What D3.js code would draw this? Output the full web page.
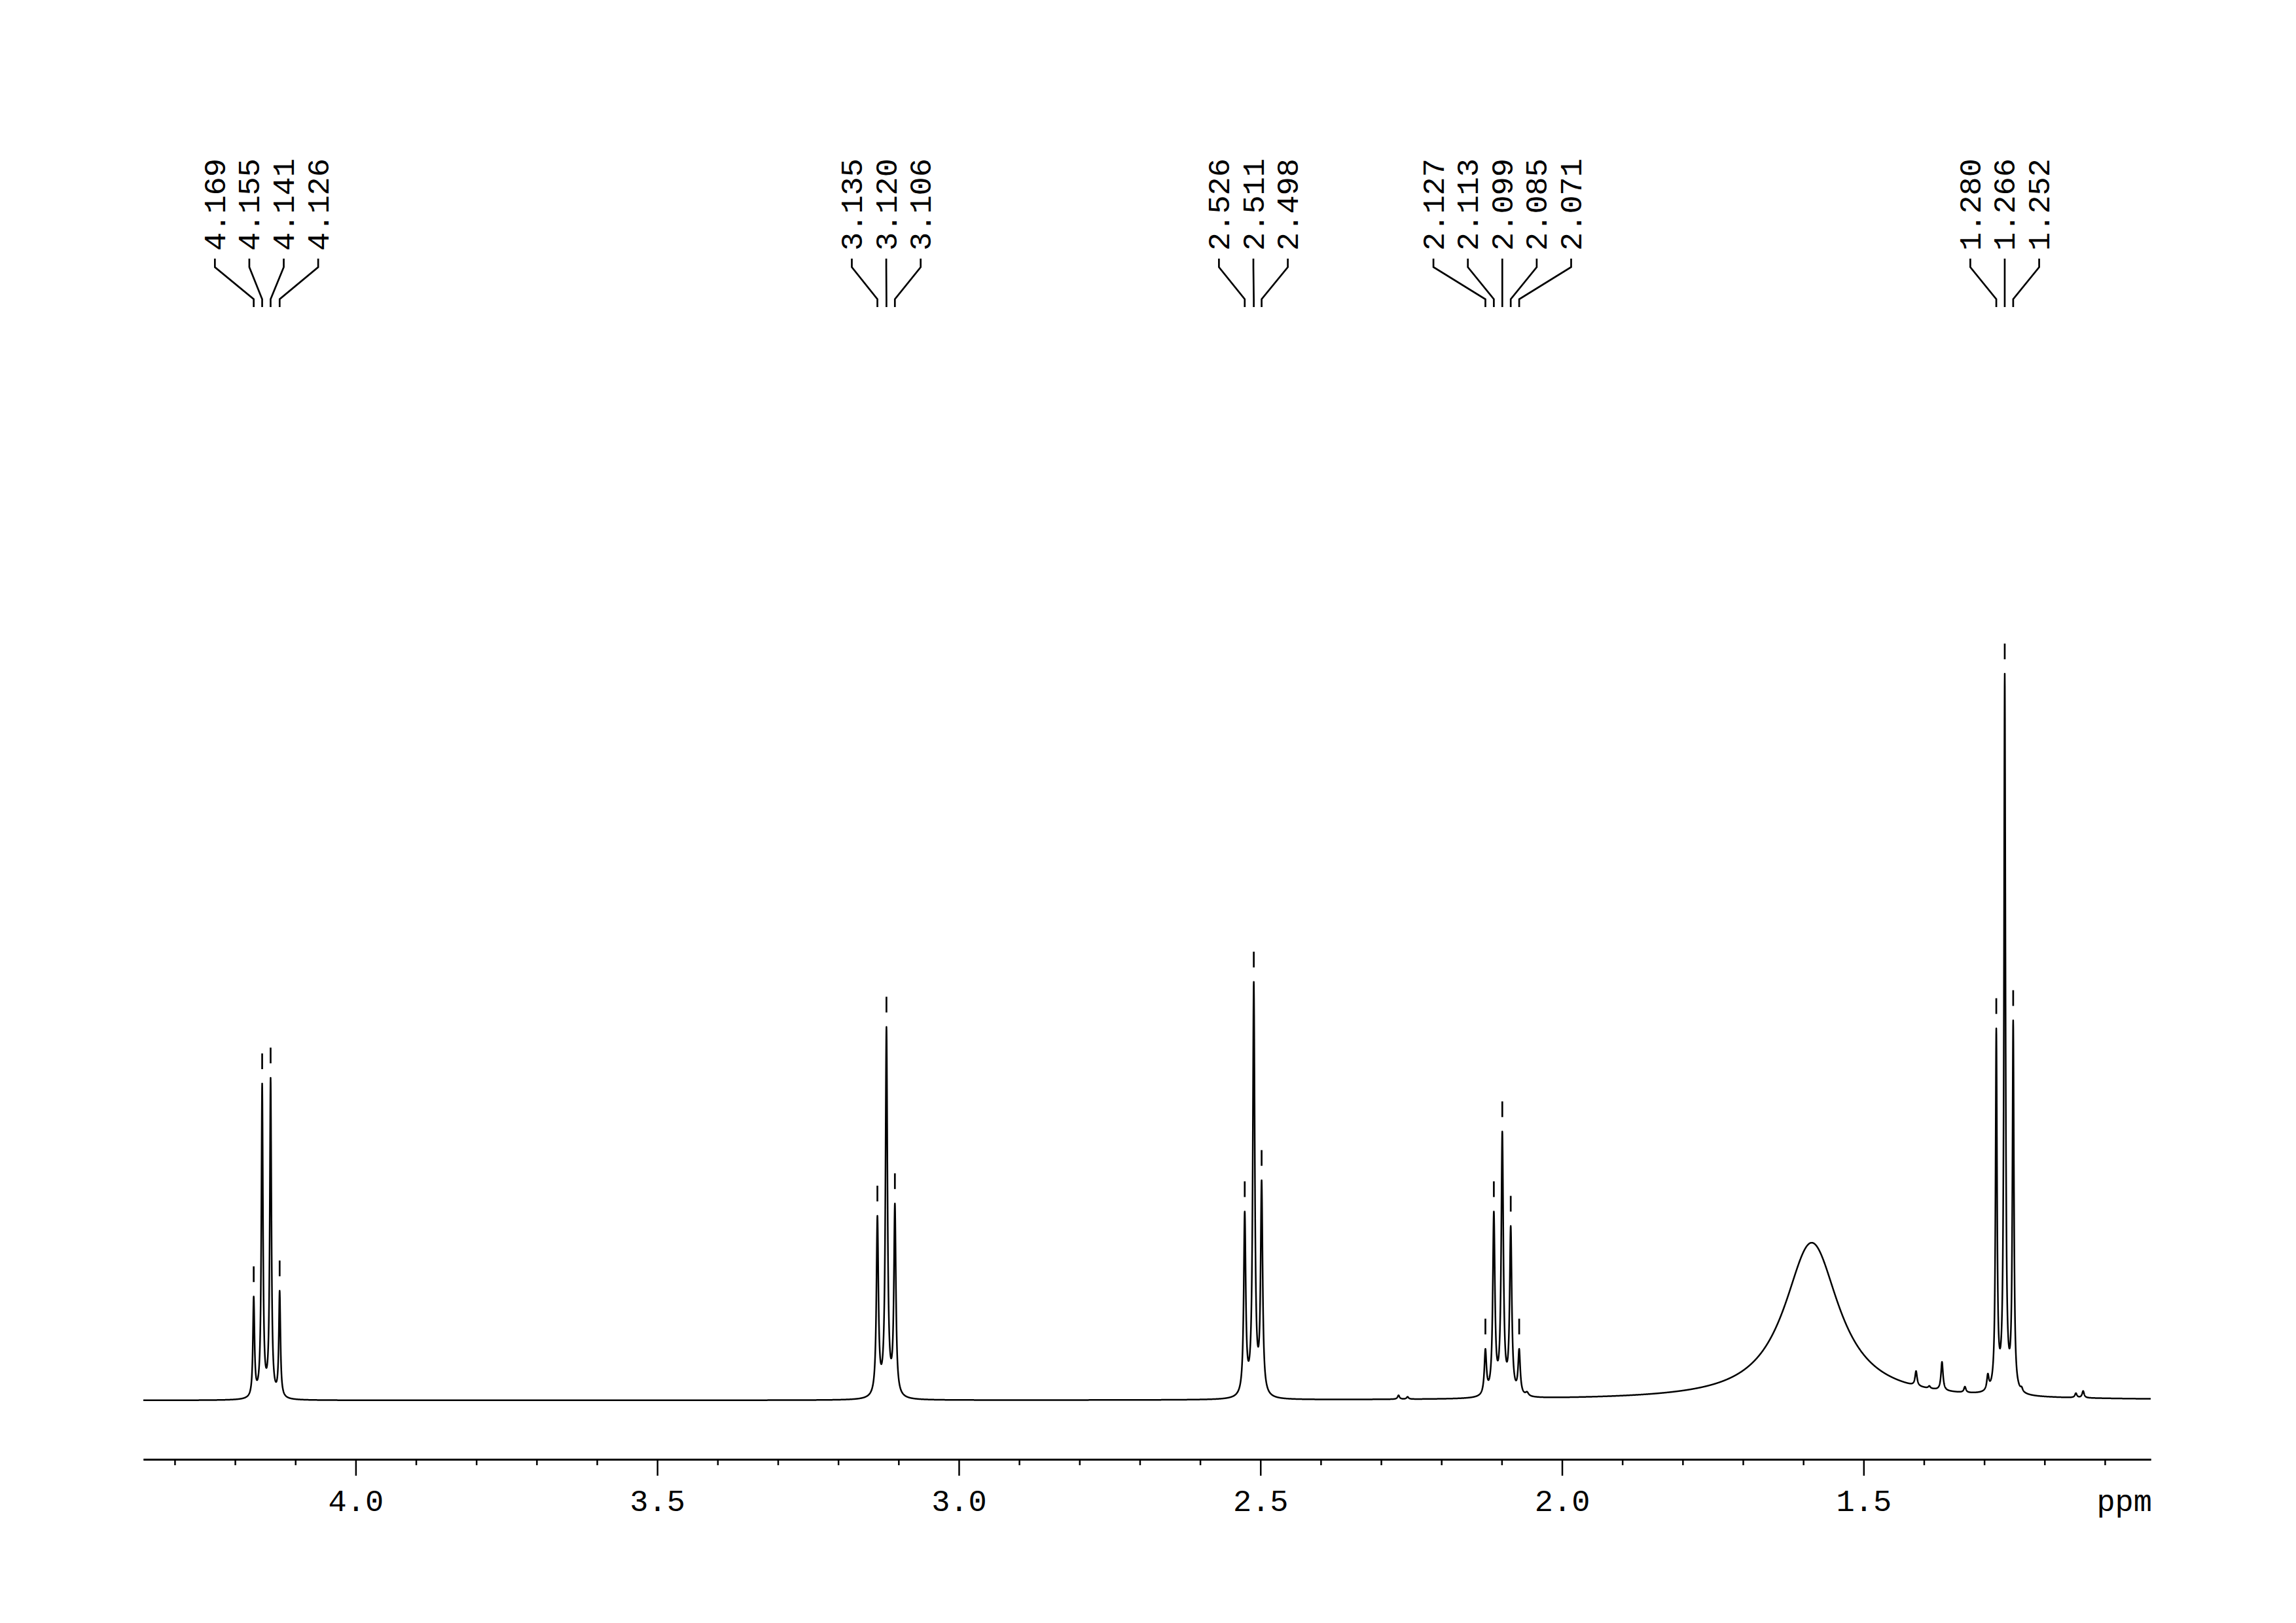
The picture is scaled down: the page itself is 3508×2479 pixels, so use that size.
<!DOCTYPE html>
<html><head><meta charset="utf-8">
<script src="https://cdn.jsdelivr.net/npm/d3@7"></script>
<style>html,body{margin:0;padding:0;background:#fff;} svg{display:block;}</style>
</head><body>
<script>
// ---- data ----
const ppmDomain = [4.352, 1.024];          // left and right ends of the axis (ppm)
const intensityDomain = [0, 100];          // relative intensity (tallest line = 100)
const majorTicks = [4.0, 3.5, 3.0, 2.5, 2.0, 1.5];
const tickLabels = ["4.0", "3.5", "3.0", "2.5", "2.0", "1.5"];
const minorTicks = [4.3, 4.2, 4.1, 3.9, 3.8, 3.7, 3.6, 3.4, 3.3, 3.2, 3.1, 2.9, 2.8, 2.7, 2.6,
                    2.4, 2.3, 2.2, 2.1, 1.9, 1.8, 1.7, 1.6, 1.4, 1.3, 1.2, 1.1];
const unitLabel = "ppm";

// peak list: position (ppm), observed height (relative), half width at half max (ppm)
const peakPpm    = [4.169, 4.155, 4.141, 4.126,
                    3.135, 3.120, 3.106,
                    2.526, 2.511, 2.498,
                    2.271, 2.256,
                    2.127, 2.113, 2.099, 2.085, 2.071, 2.058,
                    1.586,
                    1.413, 1.391, 1.370, 1.332, 1.294,
                    1.280, 1.266, 1.252, 1.238,
                    1.148, 1.136];
const peakHeight = [14.3, 43.6, 44.4, 15.1,
                    25.4, 51.4, 27.1,
                    26.0, 57.6, 30.3,
                    0.7, 0.5,
                    7.1, 26.0, 37.0, 24.0, 7.1, 1.2,
                    21.7,
                    4.05, 2.0, 5.3, 1.9, 3.7,
                    51.2, 100, 52.3, 1.9,
                    1.0, 1.3];
const peakHwhm   = [0.0016, 0.0016, 0.0016, 0.0016,
                    0.002, 0.002, 0.002,
                    0.002, 0.002, 0.002,
                    0.002, 0.002,
                    0.0021, 0.0021, 0.0021, 0.0021, 0.0021, 0.003,
                    0.055,
                    0.002, 0.002, 0.002, 0.002, 0.002,
                    0.0015, 0.0015, 0.0015, 0.002,
                    0.002, 0.002];

// picked peaks, grouped by multiplet
const labelGroups = [
  [4.169, 4.155, 4.141, 4.126],
  [3.135, 3.120, 3.106],
  [2.526, 2.511, 2.498],
  [2.127, 2.113, 2.099, 2.085, 2.071],
  [1.280, 1.266, 1.252]
];

// ---- drawing ----
const W = 3508, H = 2479;
const svg = d3.select("body").append("svg").attr("width", W).attr("height", H)
  .style("background", "#fff");
const FONT = "'Liberation Mono', 'DejaVu Sans Mono', monospace";

const x = d3.scaleLinear().domain(ppmDomain).range([219, 3286]);
const y = d3.scaleLinear().domain(intensityDomain).range([2139, 1029]);

const lor = (p, c, g) => 1 / (1 + ((p - c) / g) ** 2);
// amplitudes such that the summed curve reaches the observed heights
let amp = peakHeight.slice();
for (let it = 0; it < 40; it++) {
  amp = peakPpm.map((c, i) => {
    let s = 0;
    peakPpm.forEach((cj, j) => { if (j !== i) s += amp[j] * lor(c, cj, peakHwhm[j]); });
    return Math.max(0, peakHeight[i] - s);
  });
}
const total = p => peakPpm.reduce((s, c, j) => s + amp[j] * lor(p, c, peakHwhm[j]), 0);

const samples = d3.range(ppmDomain[1], ppmDomain[0], 0.0002).concat(peakPpm, [ppmDomain[0]])
  .sort((a, b) => b - a);
const spectrum = samples.map(p => [p, total(p)]);

svg.append("path").datum(spectrum)
  .attr("fill", "none").attr("stroke", "#000").attr("stroke-width", 2.5)
  .attr("stroke-linejoin", "round")
  .attr("d", d3.line().x(d => x(d[0])).y(d => y(d[1])));

// axis
const axisY = 2229;
const gMinor = svg.append("g").attr("transform", `translate(0,${axisY})`)
  .call(d3.axisBottom(x).tickValues(minorTicks).tickSize(9).tickSizeOuter(0).tickFormat(""));
const gMajor = svg.append("g").attr("transform", `translate(0,${axisY})`)
  .call(d3.axisBottom(x).tickValues(majorTicks).tickSize(25).tickSizeOuter(0)
    .tickFormat((d, i) => tickLabels[i]));
[gMinor, gMajor].forEach(g => {
  g.select(".domain").attr("stroke", "#000").attr("stroke-width", 3);
  g.selectAll(".tick line").attr("stroke", "#000").attr("stroke-width", 2.5);
});
gMajor.selectAll(".tick text").attr("y", 79).attr("dy", 0)
  .attr("font-family", FONT).attr("font-size", 47).attr("fill", "#000");
svg.append("text").attr("x", 3288).attr("y", axisY + 79).attr("text-anchor", "end")
  .attr("font-family", FONT).attr("font-size", 47).text(unitLabel);

// peak picking: markers, labels, connectors
const fmt = d3.format(".3f");
const lab = svg.append("g");
labelGroups.forEach(group => {
  const xs = group.map(p => x(p));
  const mid = d3.mean(xs);
  const n = group.length;
  group.forEach((p, i) => {
    const px = x(p);
    const lx = mid + (i - (n - 1) / 2) * 52.6;
    const top = y(total(p));
    lab.append("line").attr("x1", px).attr("x2", px).attr("y1", top - 22).attr("y2", top - 46)
      .attr("stroke", "#000").attr("stroke-width", 2.7);
    lab.append("text").attr("transform", `translate(${lx},383) rotate(-90)`)
      .attr("dy", "0.33em").attr("font-family", FONT).attr("font-size", 47)
      .text(fmt(p));
    lab.append("path").attr("d", `M${lx},395V408L${px},457V469`)
      .attr("fill", "none").attr("stroke", "#000").attr("stroke-width", 2.7);
  });
});
</script>
</body></html>
